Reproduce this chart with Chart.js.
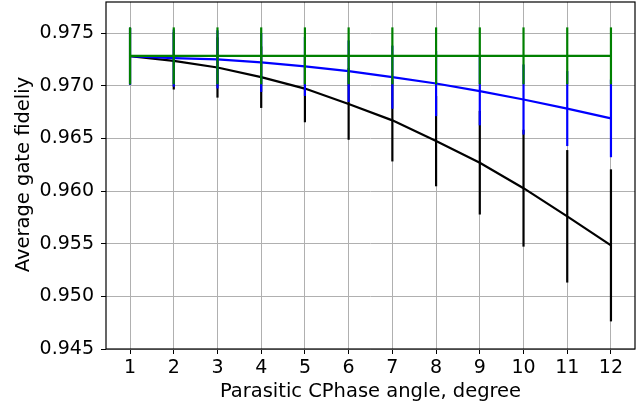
<!DOCTYPE html>
<html>
<head>
<meta charset="utf-8">
<script src="https://cdn.jsdelivr.net/npm/chart.js@4/dist/chart.umd.min.js"></script>
<style>
html,body{margin:0;padding:0;background:#fff;}
#wrap{width:644px;height:410px;position:relative;}
</style>
</head>
<body>
<div id="wrap"><canvas id="c" width="644" height="410"></canvas></div>
<script>
const angles = [1,2,3,4,5,6,7,8,9,10,11,12];
const xTicks = [1,2,3,4,5,6,7,8,9,10,11,12];
const yTicks = [0.945,0.950,0.955,0.960,0.965,0.970,0.975];
const xTitle = 'Parasitic CPhase angle, degree';
const yTitle = 'Average gate fideliy';

const blackVals = [0.9728,0.97236,0.97173,0.97081,0.96973,0.96827,0.96671,0.96474,0.96269,0.96027,0.9576,0.95484];
const blackErr  = [0.0027,0.00272,0.00286,0.00292,0.0032,0.0034,0.0039,0.00429,0.00492,0.00555,0.00629,0.00722];

const blueVals = [0.9728,0.97262,0.9725,0.97221,0.97183,0.97138,0.97081,0.97021,0.96948,0.96869,0.96783,0.9669];
const blueErr  = [0.0027,0.00272,0.00276,0.0028,0.0028,0.00292,0.003,0.0031,0.00324,0.00333,0.00356,0.00369];

const greenVals = [0.97284,0.97284,0.97284,0.97284,0.97284,0.97284,0.97284,0.97284,0.97284,0.97284,0.97284,0.97284];
const greenErr  = [0.0027,0.0027,0.0027,0.0027,0.0027,0.0027,0.0027,0.0027,0.0027,0.0027,0.0027,0.0027];

const FONT = "'DejaVu Sans', sans-serif";
const FS = 19;
const FT = 19.5;

function pts(vals){ return angles.map((a,i)=>({x:a,y:vals[i]})); }

const errorBars = {
  id:'errorBars',
  beforeDatasetDraw(chart, args){
    const ds = chart.data.datasets[args.index];
    if(!ds.errors) return;
    const xs = chart.scales.x, ys = chart.scales.y;
    const ctx = chart.ctx;
    ctx.save();
    ctx.strokeStyle = ds.borderColor;
    ctx.lineWidth = 2.2;
    ds.data.forEach((p,i)=>{
      const px = xs.getPixelForValue(p.x);
      const y1 = ys.getPixelForValue(p.y - ds.errors[i]);
      const y2 = ys.getPixelForValue(p.y + ds.errors[i]);
      ctx.beginPath();
      ctx.moveTo(px,y1); ctx.lineTo(px,y2);
      ctx.stroke();
    });
    ctx.restore();
  },
  afterDraw(chart){
    const a = chart.chartArea, ctx = chart.ctx;
    ctx.save();
    ctx.strokeStyle = '#000';
    ctx.lineWidth = 1.2;
    ctx.strokeRect(a.left, a.top, a.right-a.left, a.bottom-a.top);
    // y-axis title
    ctx.fillStyle = '#000';
    ctx.font = FT + 'px ' + FONT;
    ctx.textAlign = 'center';
    ctx.textBaseline = 'middle';
    ctx.translate(24, (a.top + a.bottom)/2 - 1);
    ctx.rotate(-Math.PI/2);
    ctx.fillText(yTitle, 0, 0);
    ctx.restore();
  }
};

new Chart(document.getElementById('c'), {
  type:'line',
  data:{
    datasets:[
      {data:pts(greenVals), errors:greenErr, borderColor:'#008000', borderWidth:2.2, pointRadius:0, tension:0, fill:false},
      {data:pts(blueVals), errors:blueErr, borderColor:'#0000ff', borderWidth:2.2, pointRadius:0, tension:0, fill:false},
      {data:pts(blackVals), errors:blackErr, borderColor:'#000000', borderWidth:2.2, pointRadius:0, tension:0, fill:false}
    ]
  },
  options:{
    responsive:false,
    animation:false,
    events:[],
    layout:{padding:{left:0,right:9,top:2,bottom:0}},
    plugins:{legend:{display:false},tooltip:{enabled:false}},
    scales:{
      x:{
        type:'linear', min:0.45, max:12.55,
        afterBuildTicks(s){ s.ticks = xTicks.map(v=>({value:v})); },
        afterFit(s){ s.height = 61; s.paddingLeft = 0; s.paddingRight = 0; },
        grid:{color:'#b0b0b0', lineWidth:1, tickColor:'#000', tickLength:5},
        border:{display:false},
        ticks:{color:'#000', font:{family:FONT,size:FS}, padding:3, maxRotation:0, callback:v=>String(v)},
        title:{display:true, text:xTitle, color:'#000', font:{family:FONT,size:FT}, padding:{top:0,bottom:6}}
      },
      y:{
        type:'linear', min:0.945, max:0.97795,
        afterBuildTicks(s){ s.ticks = yTicks.map(v=>({value:v})); },
        afterFit(s){ s.width = 106; s.paddingTop = 0; s.paddingBottom = 0; },
        grid:{color:'#b0b0b0', lineWidth:1, tickColor:'#000', tickLength:5},
        border:{display:false},
        ticks:{color:'#000', font:{family:FONT,size:FS}, padding:7, callback:v=>v.toFixed(3)},
        title:{display:false}
      }
    }
  },
  plugins:[errorBars]
});
</script>
</body>
</html>
